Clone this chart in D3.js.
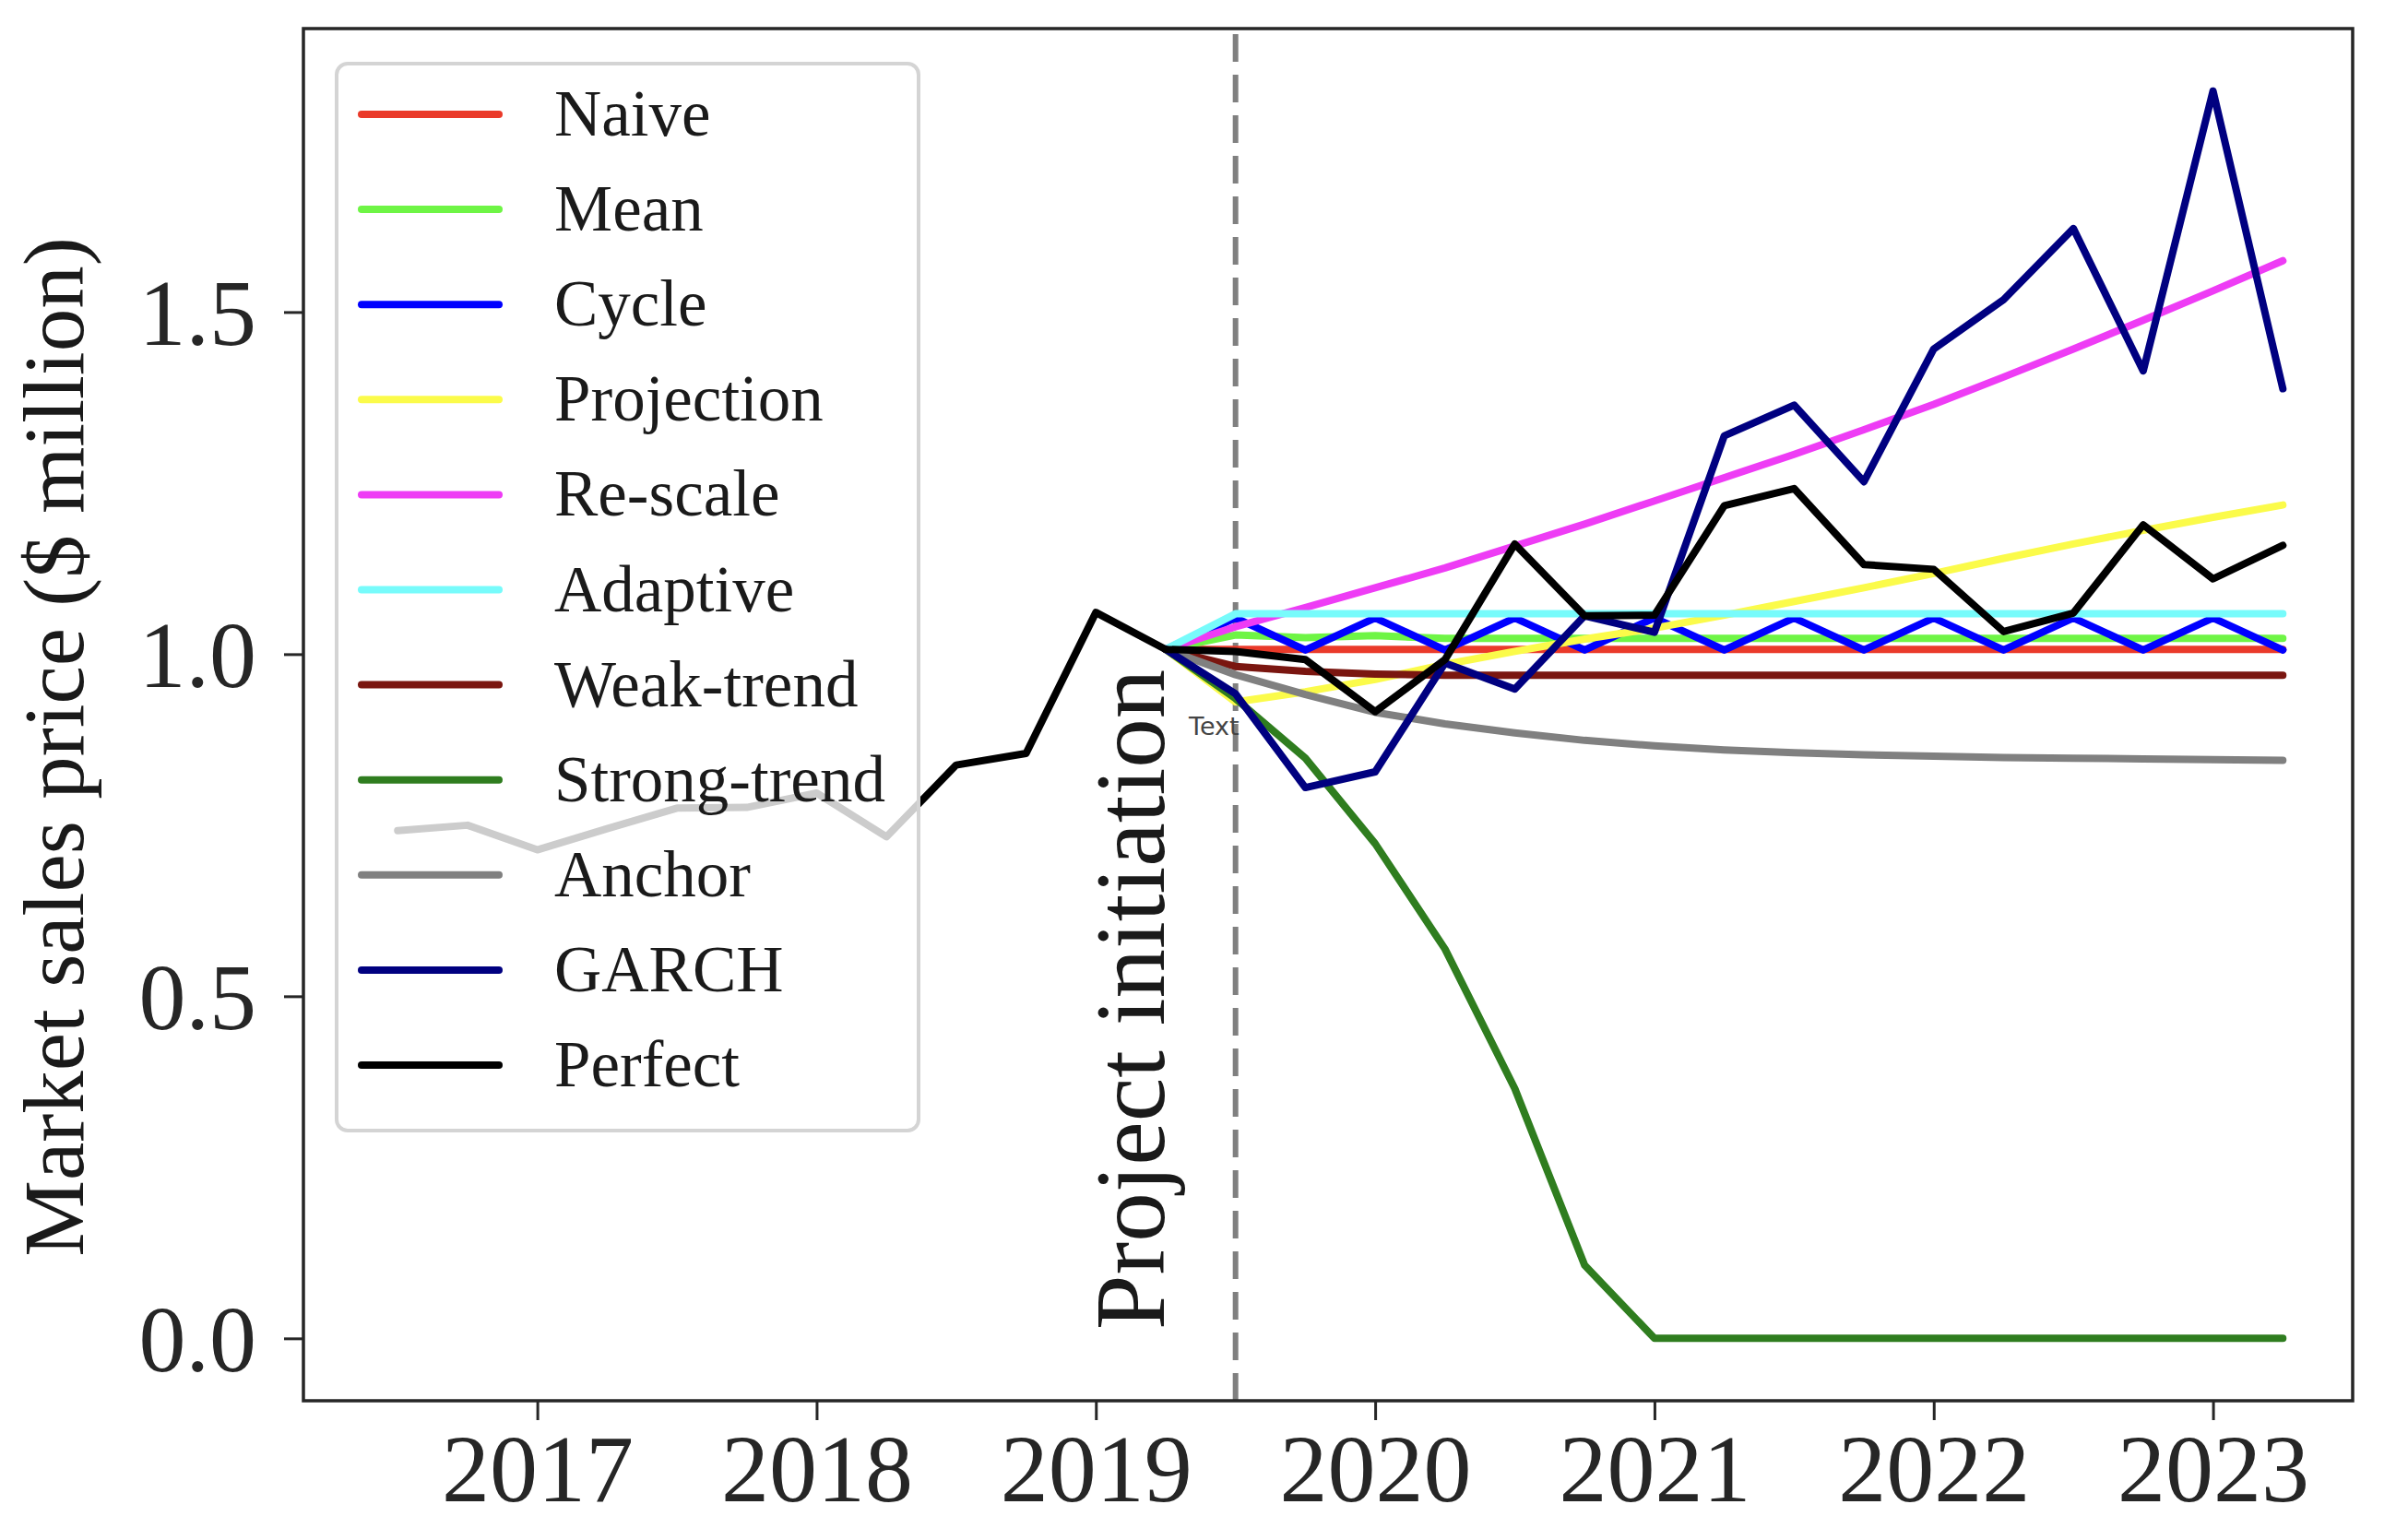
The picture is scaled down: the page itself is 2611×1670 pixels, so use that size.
<!DOCTYPE html>
<html>
<head>
<meta charset="utf-8">
<script src="https://cdn.jsdelivr.net/npm/d3@7"></script>
<style>
  html, body { margin: 0; padding: 0; background: #fff; }
  svg { display: block; }
</style>
</head>
<body>
<svg id="chart" width="2611" height="1670"></svg>
<script>
// ---------------- DATA ----------------
const histDates = [2016.5, 2016.75, 2017.0, 2017.25, 2017.5, 2017.75, 2018.0, 2018.25, 2018.5, 2018.75, 2019.0];
const histPrice = [0.742, 0.750, 0.714, 0.745, 0.775, 0.776, 0.797, 0.733, 0.838, 0.855, 1.061];

const fcDates = [2019.25, 2019.5, 2019.75, 2020.0, 2020.25, 2020.5, 2020.75, 2021.0, 2021.25,
                 2021.5, 2021.75, 2022.0, 2022.25, 2022.5, 2022.75, 2023.0, 2023.25];

const naive      = [1.007, 1.007, 1.007, 1.007, 1.007, 1.007, 1.007, 1.007, 1.007, 1.007, 1.007, 1.007, 1.007, 1.007, 1.007, 1.007, 1.007];
const mean       = [1.007, 1.028, 1.024, 1.027, 1.023, 1.023, 1.023, 1.023, 1.023, 1.023, 1.023, 1.023, 1.023, 1.023, 1.023, 1.023, 1.023];
const cycle      = [1.007, 1.053, 1.006, 1.053, 1.006, 1.053, 1.006, 1.053, 1.006, 1.053, 1.006, 1.053, 1.006, 1.053, 1.006, 1.053, 1.006];
const projection = [1.007, 0.930, 0.945, 0.963, 0.985, 1.004, 1.022, 1.038, 1.057, 1.077, 1.097, 1.118, 1.140, 1.161, 1.181, 1.200, 1.218];
const rescale    = [1.007, 1.040, 1.068, 1.097, 1.126, 1.158, 1.190, 1.224, 1.258, 1.292, 1.328, 1.365, 1.405, 1.446, 1.488, 1.531, 1.575];
const adaptive   = [1.007, 1.059, 1.059, 1.059, 1.059, 1.059, 1.059, 1.059, 1.059, 1.059, 1.059, 1.059, 1.059, 1.059, 1.059, 1.059, 1.059];
const weakTrend  = [1.007, 0.982, 0.975, 0.971, 0.969, 0.969, 0.969, 0.969, 0.969, 0.969, 0.969, 0.969, 0.969, 0.969, 0.969, 0.969, 0.969];
const strongTrend= [1.007, 0.935, 0.848, 0.723, 0.569, 0.365, 0.107, 0.0, 0.0, 0.0, 0.0, 0.0, 0.0, 0.0, 0.0, 0.0, 0.0];
const anchor     = [1.007, 0.970, 0.941, 0.915, 0.898, 0.885, 0.874, 0.866, 0.860, 0.856, 0.853, 0.851, 0.849, 0.848, 0.847, 0.846, 0.845];
const garch      = [1.007, 0.942, 0.805, 0.828, 0.987, 0.949, 1.056, 1.032, 1.319, 1.364, 1.252, 1.446, 1.518, 1.622, 1.414, 1.823, 1.388];
const perfectFc  = [1.007, 1.004, 0.992, 0.916, 0.992, 1.161, 1.056, 1.057, 1.217, 1.242, 1.131, 1.124, 1.033, 1.060, 1.189, 1.110, 1.159];

const seriesNames  = ["Naive", "Mean", "Cycle", "Projection", "Re-scale", "Adaptive", "Weak-trend", "Strong-trend", "Anchor", "GARCH", "Perfect"];
const seriesColors = ["#ea3a2a", "#6ef545", "#0000ff", "#fbfb4a", "#ee3cf5", "#77fbfb", "#7a1610", "#2f7d1f", "#808080", "#000080", "#000000"];

const xTicks = [2017, 2018, 2019, 2020, 2021, 2022, 2023];
const yTicks = [0.0, 0.5, 1.0, 1.5];
const initiationDate = 2019.5;
const yLabel = "Market sales price ($ million)";
const vLabel = "Project initiation";

// ---------------- LAYOUT ----------------
const svg = d3.select("#chart");
const W = 2611, H = 1670;
const plot = { left: 329, right: 2551, top: 31, bottom: 1519 };
const serif = "'Liberation Serif', 'Times New Roman', Times, serif";
const LW = 8;

svg.append("rect").attr("width", W).attr("height", H).attr("fill", "#fff");

const x = d3.scaleLinear().domain([2016.1625, 2023.50]).range([plot.left, plot.right]);
const y = d3.scaleLinear().domain([-0.0912, 1.9143]).range([plot.bottom, plot.top]);

const seriesValues = [naive, mean, cycle, projection, rescale, adaptive, weakTrend, strongTrend, anchor, garch];

const line = d3.line().x(d => x(d[0])).y(d => y(d[1]));
const clipId = "plotclip";
svg.append("clipPath").attr("id", clipId)
  .append("rect").attr("x", plot.left).attr("y", plot.top)
  .attr("width", plot.right - plot.left).attr("height", plot.bottom - plot.top);

const g = svg.append("g").attr("clip-path", `url(#${clipId})`);

// dashed vertical line
g.append("line")
  .attr("x1", x(initiationDate)).attr("x2", x(initiationDate))
  .attr("y1", plot.bottom).attr("y2", plot.top)
  .attr("stroke", "#808080").attr("stroke-width", 6)
  .attr("stroke-dasharray", "30,14");

// forecast series
seriesValues.forEach((vals, i) => {
  g.append("path")
    .datum(fcDates.map((d, k) => [d, vals[k]]))
    .attr("d", line)
    .attr("fill", "none")
    .attr("stroke", seriesColors[i])
    .attr("stroke-width", LW)
    .attr("stroke-linejoin", "round")
    .attr("stroke-linecap", "round");
});

// perfect (actual) series
const actualDates = histDates.concat(fcDates);
const actualVals = histPrice.concat(perfectFc);
g.append("path")
  .datum(actualDates.map((d, k) => [d, actualVals[k]]))
  .attr("d", line)
  .attr("fill", "none")
  .attr("stroke", seriesColors[10])
  .attr("stroke-width", LW)
  .attr("stroke-linejoin", "round")
  .attr("stroke-linecap", "round");

// "Project initiation" label
svg.append("text")
  .attr("transform", `translate(1262,1442) rotate(-90)`)
  .attr("font-family", serif).attr("font-size", 107)
  .attr("fill", "#1a1a1a")
  .attr("text-anchor", "start")
  .text(vLabel);

// tiny "Text" label
svg.append("text")
  .attr("x", x(initiationDate) + 4).attr("y", 797)
  .attr("font-family", "'DejaVu Sans', sans-serif").attr("font-size", 27)
  .attr("fill", "#444")
  .attr("text-anchor", "end")
  .text("Text");

// ---------------- AXES ----------------
const axisColor = "#262626";
const xAxis = d3.axisBottom(x).tickValues(xTicks).tickFormat(d3.format("d")).tickSizeInner(21).tickSizeOuter(0).tickPadding(14);
const yAxis = d3.axisLeft(y).tickValues(yTicks).tickFormat(d3.format(".1f")).tickSizeInner(21).tickSizeOuter(0).tickPadding(30);

const gx = svg.append("g").attr("transform", `translate(0,${plot.bottom})`).call(xAxis);
const gy = svg.append("g").attr("transform", `translate(${plot.left},0)`).call(yAxis);
[gx, gy].forEach(a => {
  a.select(".domain").remove();
  a.selectAll(".tick line").attr("stroke", axisColor).attr("stroke-width", 3);
  a.selectAll(".tick text").attr("font-family", serif).attr("fill", axisColor);
});
gx.selectAll(".tick text").attr("font-size", 104).attr("dy", "0.71em");
gy.selectAll(".tick text").attr("font-size", 102).attr("dy", "0.34em");

// spines
svg.append("rect")
  .attr("x", plot.left).attr("y", plot.top)
  .attr("width", plot.right - plot.left).attr("height", plot.bottom - plot.top)
  .attr("fill", "none").attr("stroke", axisColor).attr("stroke-width", 3.5);

// y label
svg.append("text")
  .attr("transform", `translate(90,810) rotate(-90)`)
  .attr("font-family", serif).attr("font-size", 93)
  .attr("fill", "#1a1a1a")
  .attr("text-anchor", "middle")
  .text(yLabel);

// ---------------- LEGEND ----------------
const leg = { x: 365, y: 69, w: 631, h: 1157 };
const lg = svg.append("g");
lg.append("rect")
  .attr("x", leg.x).attr("y", leg.y).attr("width", leg.w).attr("height", leg.h)
  .attr("rx", 12).attr("ry", 12)
  .attr("fill", "#fff").attr("fill-opacity", 0.8)
  .attr("stroke", "#d4d4d4").attr("stroke-width", 4);

const rowY = d3.scaleLinear().domain([0, 10]).range([124, 1155]);
seriesNames.forEach((name, i) => {
  const yy = rowY(i);
  lg.append("line")
    .attr("x1", 392).attr("x2", 541).attr("y1", yy).attr("y2", yy)
    .attr("stroke", seriesColors[i]).attr("stroke-width", LW)
    .attr("stroke-linecap", "round");
  lg.append("text")
    .attr("x", 601).attr("y", yy + 23)
    .attr("font-family", serif).attr("font-size", 71)
    .attr("fill", "#1a1a1a")
    .text(name);
});
</script>
</body>
</html>
